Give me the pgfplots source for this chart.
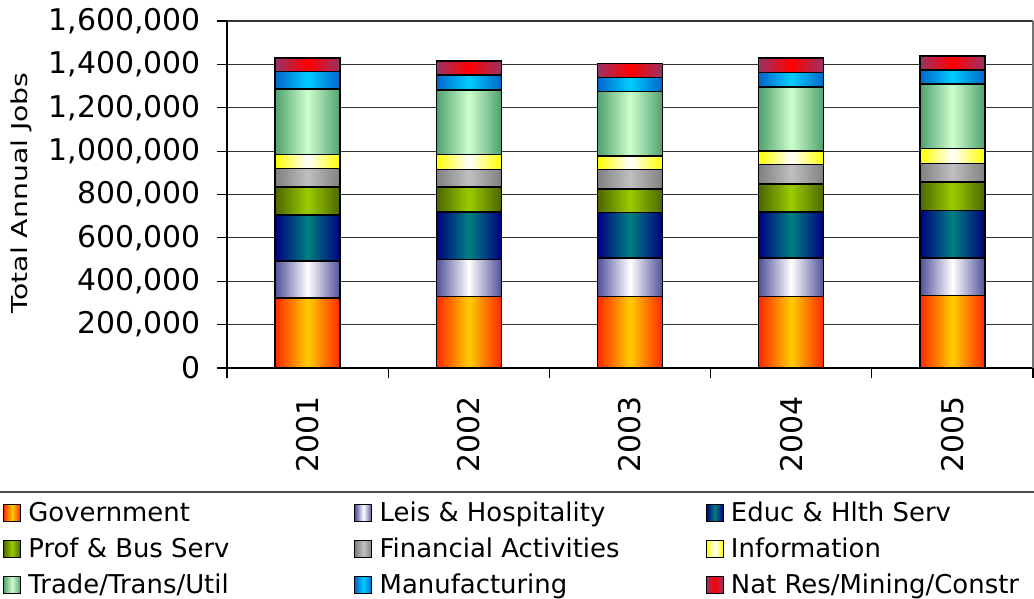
\documentclass[border=0pt]{standalone}
\usepackage{fontspec}
\setmainfont{DejaVu Sans}
\usepackage{pgfplots}
\pgfplotsset{compat=1.18}

% bar fills: dark edges, light centre
\tikzset{
  seg/.style={draw=black, line width=1.5bp},
  gov/.style={left color={rgb,255:red,255;green,40;blue,0}, right color={rgb,255:red,255;green,40;blue,0}, middle color={rgb,255:red,255;green,204;blue,0}},
  leis/.style={left color={rgb,255:red,80;green,80;blue,155}, right color={rgb,255:red,80;green,80;blue,155}, middle color=white},
  educ/.style={left color={rgb,255:red,0;green,0;blue,128}, right color={rgb,255:red,0;green,0;blue,128}, middle color={rgb,255:red,0;green,128;blue,128}},
  prof/.style={left color={rgb,255:red,77;green,102;blue,0}, right color={rgb,255:red,77;green,102;blue,0}, middle color={rgb,255:red,153;green,204;blue,0}},
  fin/.style={left color={rgb,255:red,128;green,128;blue,128}, right color={rgb,255:red,128;green,128;blue,128}, middle color={rgb,255:red,192;green,192;blue,192}},
  info/.style={left color={rgb,255:red,255;green,255;blue,0}, right color={rgb,255:red,255;green,255;blue,0}, middle color=white},
  trade/.style={left color={rgb,255:red,80;green,160;blue,112}, right color={rgb,255:red,80;green,160;blue,112}, middle color={rgb,255:red,204;green,255;blue,204}},
  manuf/.style={left color={rgb,255:red,0;green,102;blue,204}, right color={rgb,255:red,0;green,102;blue,204}, middle color={rgb,255:red,0;green,204;blue,255}},
  natres/.style={left color={rgb,255:red,153;green,51;blue,102}, right color={rgb,255:red,153;green,51;blue,102}, middle color={rgb,255:red,255;green,0;blue,0}},
}

\begin{document}
\begin{tikzpicture}
\useasboundingbox (0,0) rectangle (1034bp,599bp);
\begin{axis}[
    at={(227bp,231bp)}, anchor=south west,
    scale only axis,
    width=806bp, height=347bp,
    ybar, bar shift=0pt, bar width=65bp,
    xmin=0.5, xmax=5.5,
    ymin=0, ymax=1600000,
    xtick={1,2,3,4,5},
    xticklabels={2001,2002,2003,2004,2005},
    minor xtick={0.5,1.5,2.5,3.5,4.5,5.5},
    ytick={0,200000,400000,600000,800000,1000000,1200000,1400000,1600000},
    axis x line*=bottom, axis y line*=left,
    axis line style={line width=1.5bp, black},
    tick align=outside,
    major tick length=10bp, minor tick length=10bp,
    tick style={line width=1.2bp, black},
    major x tick style={draw=none},
    ymajorgrids, grid style={line width=1.2bp, black!80},
    scaled y ticks=false,
    yticklabel style={font=\fontsize{30}{35}\selectfont, inner sep=0pt, xshift=-16bp},
    xticklabel style={font=\fontsize{30}{35}\selectfont, rotate=90, anchor=east, inner sep=0pt, xshift=-18bp},
    ylabel={\scalebox{1.29}[1]{Total Annual Jobs}},
    ylabel style={at={(axis description cs:-0.2556,0.505)}, anchor=center, font=\fontsize{22}{26}\selectfont},
    legend columns=3,
    legend image code/.code={\draw[#1, line width=1bp] (0bp,0bp) rectangle (17bp,17bp);},
    legend style={at={(axis description cs:-0.2778,-0.391)}, anchor=north west,
      draw=none, fill=none, inner sep=0pt, outer sep=0pt,
      font=\fontsize{26}{30}\selectfont,
      cells={anchor=base west},
      nodes={inner sep=0pt, text height=18bp, text depth=5bp},
      row sep=13bp,
      /tikz/every odd column/.append style={column sep=7.3bp}},
    /pgf/number format/.cd, fixed, 1000 sep={,}, assume math mode=true,
]
% legend, in the reference's order
\addlegendimage{gov}    \addlegendentry{\makebox[326bp][l]{Government}}
\addlegendimage{leis}   \addlegendentry{\makebox[326bp][l]{Leis \& Hospitality}}
\addlegendimage{educ}   \addlegendentry{\makebox[326bp][l]{Educ \& Hlth Serv}}
\addlegendimage{prof}   \addlegendentry{\makebox[326bp][l]{Prof \& Bus Serv}}
\addlegendimage{fin}    \addlegendentry{\makebox[326bp][l]{Financial Activities}}
\addlegendimage{info}   \addlegendentry{\makebox[326bp][l]{Information}}
\addlegendimage{trade}  \addlegendentry{\makebox[326bp][l]{Trade/Trans/Util}}
\addlegendimage{manuf}  \addlegendentry{\makebox[326bp][l]{Manufacturing}}
\addlegendimage{natres} \addlegendentry{\makebox[326bp][l]{Nat Res/Mining/Constr}}

% cumulative totals, one bar per path so each gets its own shading;
% tallest first, each later bar drawn over the one before
% Nat Res/Mining/Constr (top of stack)
\addplot[seg, natres, forget plot] coordinates {(1,1429000)};
\addplot[seg, natres, forget plot] coordinates {(2,1415000)};
\addplot[seg, natres, forget plot] coordinates {(3,1405000)};
\addplot[seg, natres, forget plot] coordinates {(4,1429000)};
\addplot[seg, natres, forget plot] coordinates {(5,1439000)};
% Manufacturing
\addplot[seg, manuf, forget plot] coordinates {(1,1366000)};
\addplot[seg, manuf, forget plot] coordinates {(2,1352000)};
\addplot[seg, manuf, forget plot] coordinates {(3,1340000)};
\addplot[seg, manuf, forget plot] coordinates {(4,1363000)};
\addplot[seg, manuf, forget plot] coordinates {(5,1373000)};
% Trade/Trans/Util
\addplot[seg, trade, forget plot] coordinates {(1,1287000)};
\addplot[seg, trade, forget plot] coordinates {(2,1281000)};
\addplot[seg, trade, forget plot] coordinates {(3,1274000)};
\addplot[seg, trade, forget plot] coordinates {(4,1296000)};
\addplot[seg, trade, forget plot] coordinates {(5,1310000)};
% Information
\addplot[seg, info, forget plot] coordinates {(1,984000)};
\addplot[seg, info, forget plot] coordinates {(2,985000)};
\addplot[seg, info, forget plot] coordinates {(3,978000)};
\addplot[seg, info, forget plot] coordinates {(4,1001000)};
\addplot[seg, info, forget plot] coordinates {(5,1012000)};
% Financial Activities
\addplot[seg, fin, forget plot] coordinates {(1,921000)};
\addplot[seg, fin, forget plot] coordinates {(2,916000)};
\addplot[seg, fin, forget plot] coordinates {(3,915000)};
\addplot[seg, fin, forget plot] coordinates {(4,938000)};
\addplot[seg, fin, forget plot] coordinates {(5,943000)};
% Prof & Bus Serv
\addplot[seg, prof, forget plot] coordinates {(1,834000)};
\addplot[seg, prof, forget plot] coordinates {(2,834000)};
\addplot[seg, prof, forget plot] coordinates {(3,826000)};
\addplot[seg, prof, forget plot] coordinates {(4,849000)};
\addplot[seg, prof, forget plot] coordinates {(5,857000)};
% Educ & Hlth Serv
\addplot[seg, educ, forget plot] coordinates {(1,705000)};
\addplot[seg, educ, forget plot] coordinates {(2,720000)};
\addplot[seg, educ, forget plot] coordinates {(3,717000)};
\addplot[seg, educ, forget plot] coordinates {(4,720000)};
\addplot[seg, educ, forget plot] coordinates {(5,726000)};
% Leis & Hospitality
\addplot[seg, leis, forget plot] coordinates {(1,493000)};
\addplot[seg, leis, forget plot] coordinates {(2,501000)};
\addplot[seg, leis, forget plot] coordinates {(3,507000)};
\addplot[seg, leis, forget plot] coordinates {(4,507000)};
\addplot[seg, leis, forget plot] coordinates {(5,507000)};
% Government (bottom of stack)
\addplot[seg, gov, forget plot] coordinates {(1,322000)};
\addplot[seg, gov, forget plot] coordinates {(2,329000)};
\addplot[seg, gov, forget plot] coordinates {(3,330000)};
\addplot[seg, gov, forget plot] coordinates {(4,330000)};
\addplot[seg, gov, forget plot] coordinates {(5,335000)};
\end{axis}
\draw[line width=1.2bp, black!55] (1033bp,231bp) -- (1033bp,578bp);
\draw[line width=2bp, black!70] (0bp,107bp) -- (1034bp,107bp);
\end{tikzpicture}
\end{document}
